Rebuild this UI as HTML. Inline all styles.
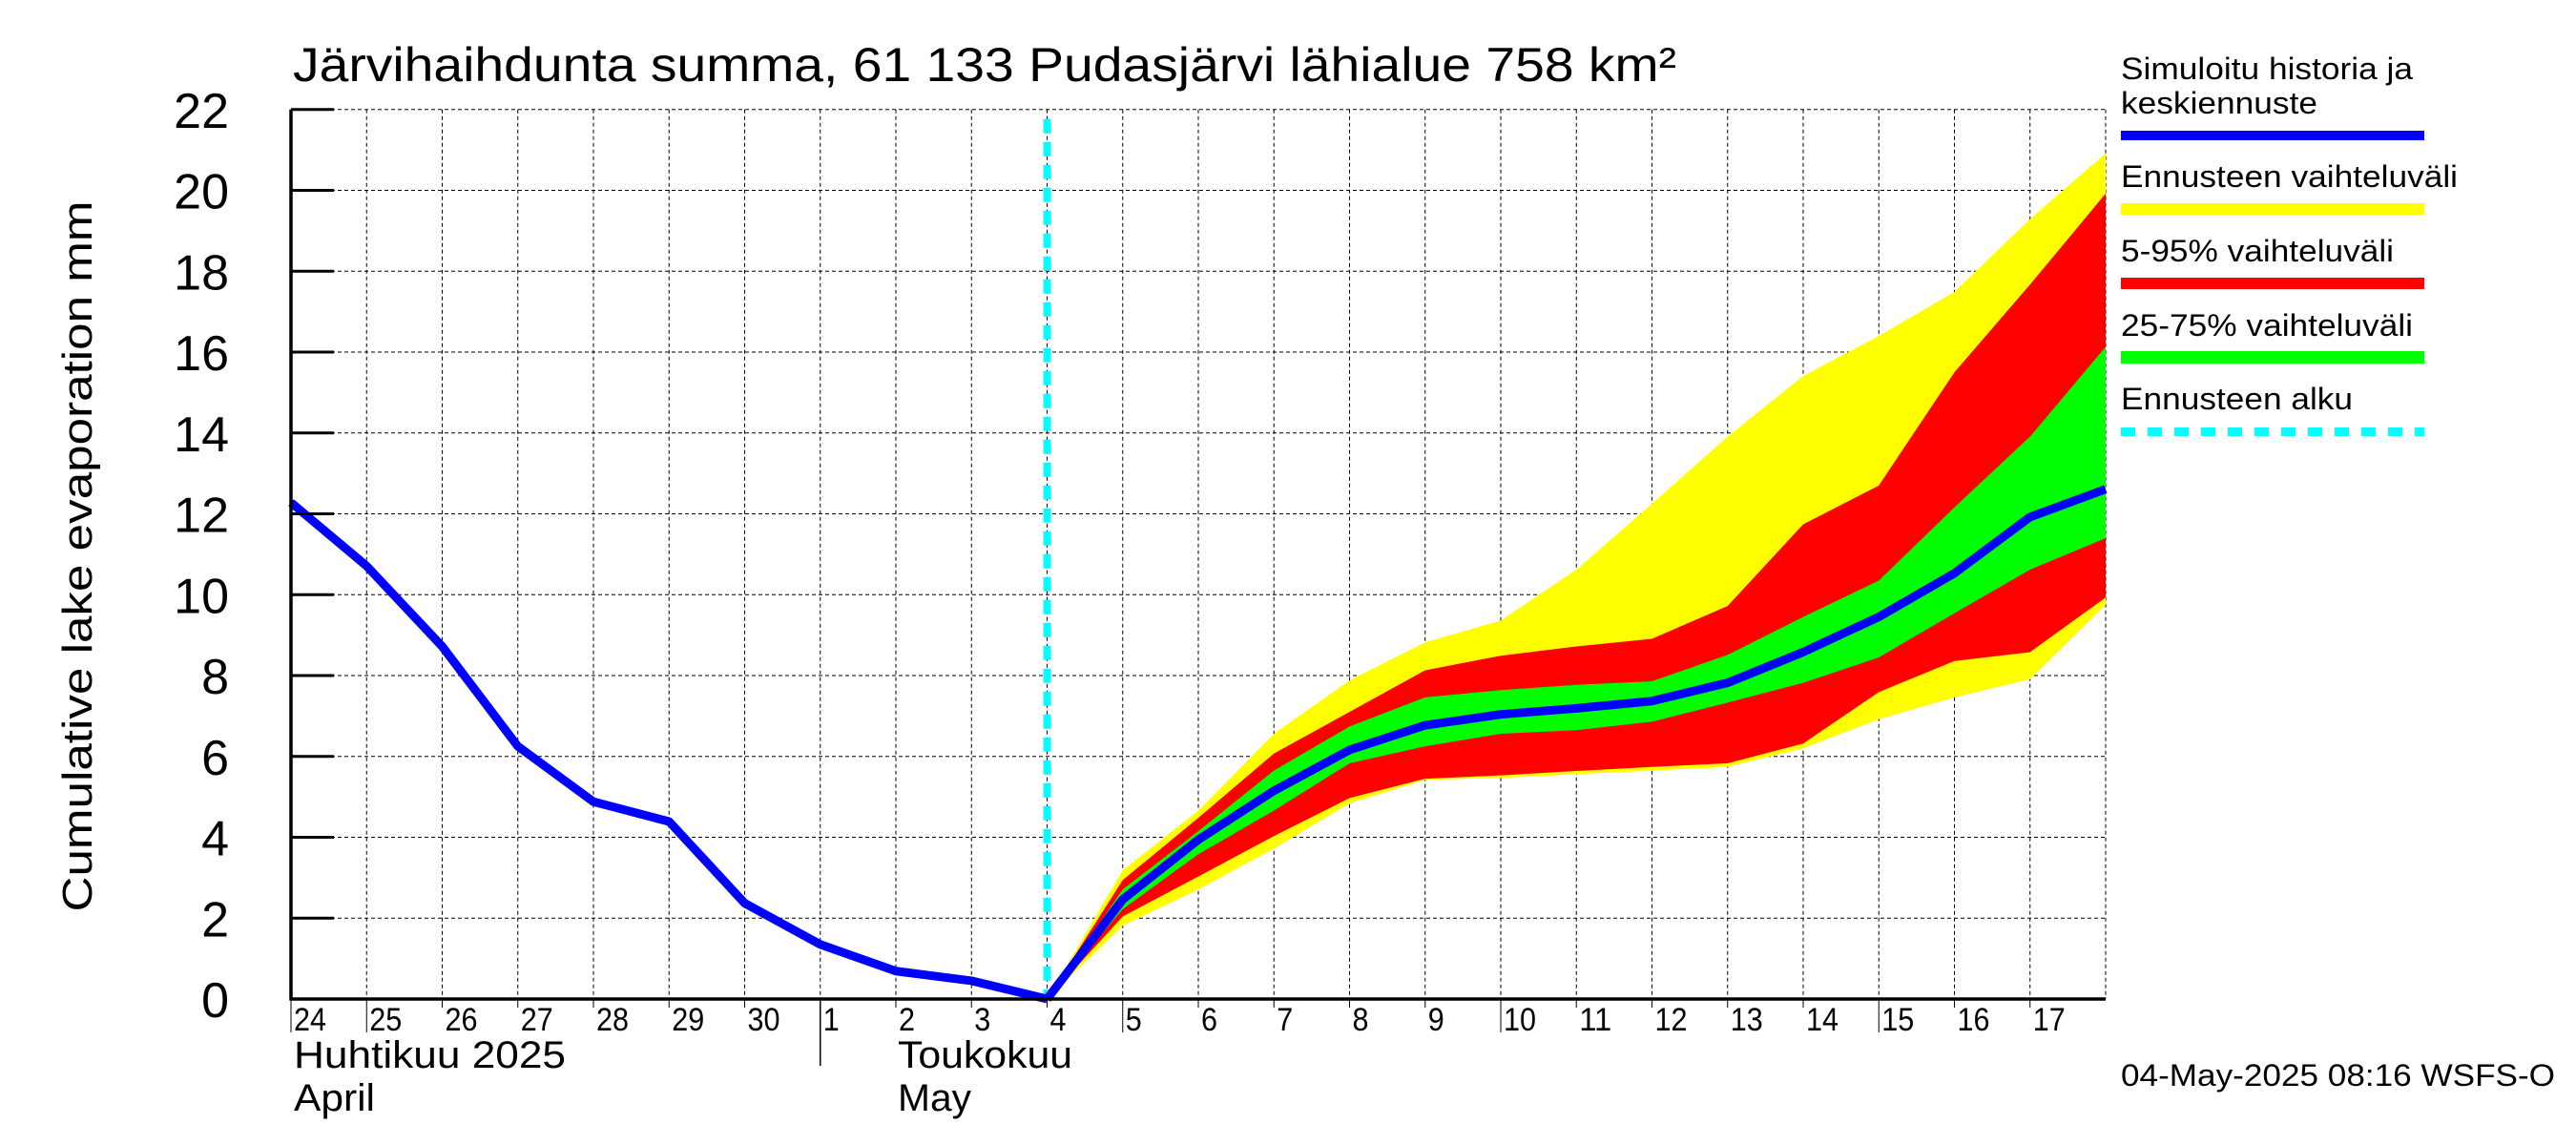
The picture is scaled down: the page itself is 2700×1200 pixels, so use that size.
<!DOCTYPE html>
<html><head><meta charset="utf-8">
<style>
html,body{margin:0;padding:0;background:#fff;}
svg{display:block;font-family:"Liberation Sans",sans-serif;}
</style></head>
<body>
<svg id="chart" xmlns="http://www.w3.org/2000/svg" width="2700" height="1200" viewBox="0 0 2700 1200">
<rect x="0" y="0" width="2700" height="1200" fill="#fff"/>
<text x="307" y="85" font-size="50" textLength="1450" lengthAdjust="spacingAndGlyphs">Järvihaihdunta summa, 61 133 Pudasjärvi lähialue 758 km²</text>
<text transform="translate(96,583) rotate(-90)" text-anchor="middle" font-size="44" textLength="745" lengthAdjust="spacingAndGlyphs">Cumulative lake evaporation   mm</text>
<g id="grid"></g>
<g id="bands"></g>
<g id="lines"></g>
<g id="axes"></g>
<g id="legend">
  <text x="2223" y="83" font-size="32" textLength="306" lengthAdjust="spacingAndGlyphs">Simuloitu historia ja</text>
  <text x="2223" y="119" font-size="32" textLength="206" lengthAdjust="spacingAndGlyphs">keskiennuste</text>
  <rect x="2223" y="137" width="318" height="10" fill="#0000ff"/>
  <text x="2223" y="196" font-size="32" textLength="353" lengthAdjust="spacingAndGlyphs">Ennusteen vaihteluväli</text>
  <rect x="2223" y="213" width="318" height="12" fill="#ffff00"/>
  <text x="2223" y="274" font-size="32" textLength="286" lengthAdjust="spacingAndGlyphs">5-95% vaihteluväli</text>
  <rect x="2223" y="291" width="318" height="12" fill="#ff0000"/>
  <text x="2223" y="352" font-size="32" textLength="306" lengthAdjust="spacingAndGlyphs">25-75% vaihteluväli</text>
  <rect x="2223" y="368" width="318" height="13" fill="#00ff00"/>
  <text x="2223" y="429" font-size="32" textLength="243" lengthAdjust="spacingAndGlyphs">Ennusteen alku</text>
  <line x1="2223" y1="452.5" x2="2541" y2="452.5" stroke="#00ffff" stroke-width="9" stroke-dasharray="15 13"/>
</g>
<text x="2223" y="1138" font-size="32" textLength="455" lengthAdjust="spacingAndGlyphs">04-May-2025 08:16 WSFS-O</text>
</svg>
<script>
// ---- data ----
const dayLabels = ["24","25","26","27","28","29","30","1","2","3","4","5","6","7","8","9","10","11","12","13","14","15","16","17"];
const yTicks = [0,2,4,6,8,10,12,14,16,18,20,22];
const histDays = [0,1,2,3,4,5,6,7,8,9,10];
const histValues = [12.28,10.71,8.72,6.25,4.88,4.39,2.37,1.35,0.69,0.45,0];
const fcDays = [10,11,12,13,14,15,16,17,18,19,20,21,22,23,24];
const median = [0,2.46,3.94,5.15,6.16,6.77,7.04,7.19,7.37,7.82,8.58,9.45,10.53,11.92,12.61];
const rangeHigh = [0,3.18,4.66,6.56,7.88,8.82,9.36,10.62,12.25,13.91,15.41,16.40,17.49,19.29,20.92];
const rangeLow = [0,1.81,2.71,3.72,4.84,5.42,5.47,5.56,5.65,5.74,6.20,6.92,7.46,7.91,9.75];
const p95 = [0,2.94,4.48,6.07,7.10,8.13,8.49,8.72,8.91,9.72,11.74,12.70,15.50,17.67,19.92];
const p5 = [0,2.04,3.03,4.03,4.97,5.45,5.53,5.64,5.74,5.83,6.32,7.59,8.36,8.58,9.93];
const p75 = [0,2.71,4.15,5.65,6.74,7.46,7.64,7.77,7.86,8.51,9.45,10.35,12.16,13.91,16.13];
const p25 = [0,2.22,3.58,4.66,5.83,6.25,6.56,6.65,6.86,7.33,7.82,8.45,9.54,10.62,11.40];
const forecastStartDay = 10;

// ---- scales ----
const X0=305, X1=2207, Y0=1047, Y1=114.8, DMAX=24, VMAX=22;
function xs(d){return X0+(X1-X0)*d/DMAX;}
function ys(v){return Y0-(Y0-Y1)*v/VMAX;}
const NS="http://www.w3.org/2000/svg";
function mk(tag,attrs,parent){const e=document.createElementNS(NS,tag);for(const k in attrs)e.setAttribute(k,attrs[k]);parent.appendChild(e);return e;}

const grid=document.getElementById('grid'),bands=document.getElementById('bands'),lines=document.getElementById('lines'),axes=document.getElementById('axes');

// grid
for(let d=1;d<=DMAX;d++){
  const l=mk('line',{x1:xs(d),y1:Y1,x2:xs(d),y2:Y0,stroke:'#000','stroke-width':1,'stroke-dasharray':'4 3'},grid);
  
  
}
yTicks.forEach(v=>{
  if(v===0)return;
  const l=mk('line',{x1:X0,y1:ys(v),x2:X1,y2:ys(v),stroke:'#000','stroke-width':1,'stroke-dasharray':'4 3'},grid);
  
  
});

// bands
function band(hi,lo,color,name){
  let pts=fcDays.map((d,i)=>xs(d)+','+ys(hi[i]));
  for(let i=fcDays.length-1;i>=0;i--)pts.push(xs(fcDays[i])+','+ys(lo[i]));
  const p=mk('polygon',{points:pts.join(' '),fill:color},bands);
  
  
}
band(rangeHigh,rangeLow,'#ffff00','band-range');
band(p95,p5,'#ff0000','band-5-95');
band(p75,p25,'#00ff00','band-25-75');

// forecast start line
const fl=mk('line',{x1:xs(forecastStartDay),y1:Y1+10,x2:xs(forecastStartDay),y2:Y0,stroke:'#00ffff','stroke-width':8,'stroke-dasharray':'15 9'},lines);



// history + median
const hl=mk('polyline',{points:histDays.map((d,i)=>xs(d)+','+ys(histValues[i])).join(' '),fill:'none',stroke:'#0000ff','stroke-width':9,'stroke-linejoin':'round'},lines);


const ml=mk('polyline',{points:fcDays.map((d,i)=>xs(d)+','+ys(median[i])).join(' '),fill:'none',stroke:'#0000ff','stroke-width':9,'stroke-linejoin':'round'},lines);



// axes
const ax=mk('line',{x1:X0,y1:Y1,x2:X0,y2:Y0+1.5,stroke:'#000','stroke-width':3.5},axes);


const bx=mk('line',{x1:X0-1.5,y1:Y0,x2:X1,y2:Y0,stroke:'#000','stroke-width':3.5},axes);


yTicks.forEach(v=>{
  const t=mk('line',{x1:X0,y1:ys(v),x2:X0+45,y2:ys(v),stroke:'#000','stroke-width':3},axes);
  
  
  const tx=mk('text',{x:240,y:ys(v)+19,'text-anchor':'end','font-size':52},axes);
  
  
  tx.textContent=String(v);
});
dayLabels.forEach((lab,d)=>{
  const long=(lab==='24'||lab==='25'||lab==='5'||lab==='10'||lab==='15');
  const t=mk('line',{x1:xs(d),y1:Y0,x2:xs(d),y2:long?1082:1056,stroke:'#000','stroke-width':1},axes);
  
  
  const tx=mk('text',{x:xs(d)+3,y:1080,'font-size':34,textLength:lab.length*17,lengthAdjust:'spacingAndGlyphs'},axes);
  
  
  tx.textContent=lab;
});
const sep=mk('line',{x1:xs(7),y1:Y0,x2:xs(7),y2:1117,stroke:'#000','stroke-width':1.5},axes);


[["Huhtikuu  2025",xs(0)+3,1119,285,"month-label-fi-april"],["April",xs(0)+3,1164,85,"month-label-en-april"],["Toukokuu",xs(8)+2,1119,183,"month-label-fi-may"],["May",xs(8)+2,1164,77,"month-label-en-may"]].forEach(m=>{
  const tx=mk('text',{x:m[1],y:m[2],'font-size':40,textLength:m[3],lengthAdjust:'spacingAndGlyphs'},axes);
  
  
  tx.textContent=m[0];
});
</script>
</body></html>
